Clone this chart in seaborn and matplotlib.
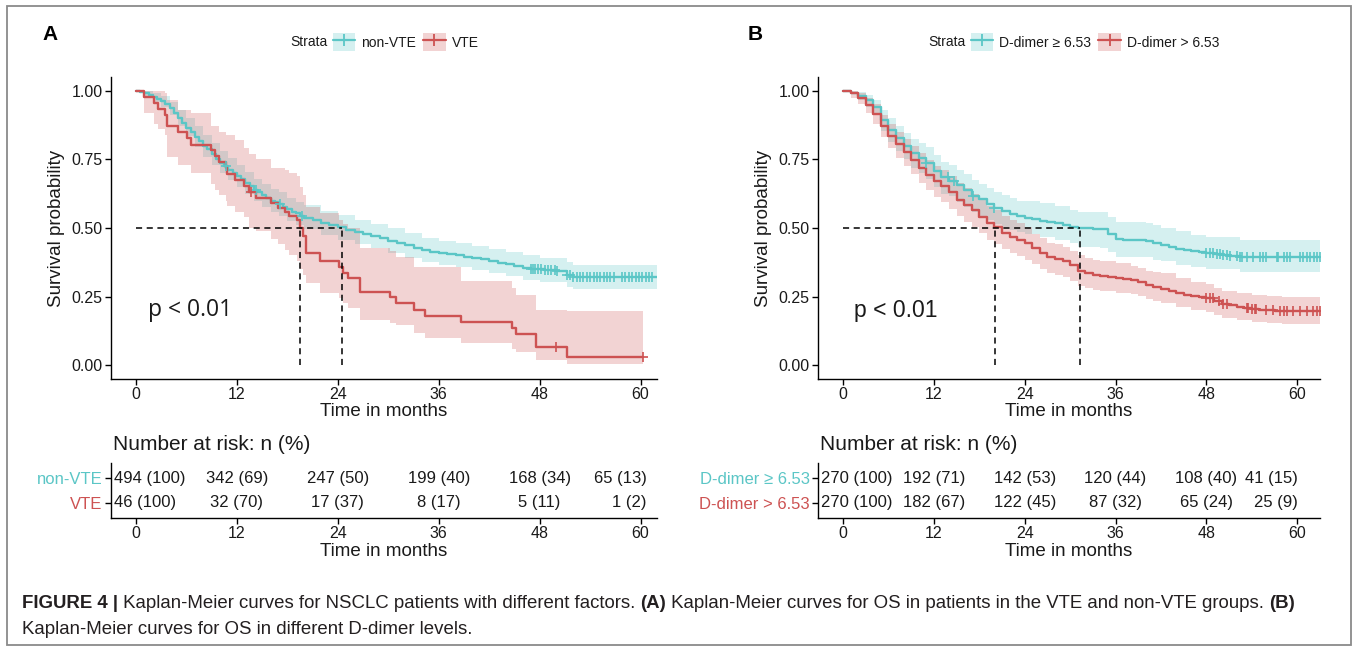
import numpy as np
import matplotlib
matplotlib.use("Agg")
import matplotlib.pyplot as plt
import seaborn as sns
from matplotlib.patches import Rectangle, Patch
from matplotlib.lines import Line2D

sns.set_theme(style="ticks")
plt.rcParams['font.family'] = ['Liberation Sans', 'DejaVu Sans']

# ---------------- DATA ----------------
# Panel A : non-VTE (teal)
a_nv_t = [0, 0.5, 1, 1.5, 2, 2.5, 3, 3.5, 4, 4.5, 5, 5.5, 6, 6.5, 7, 7.5, 8, 8.5, 9, 9.5,
          10, 10.5, 11, 11.5, 12, 12.5, 13, 13.5, 14, 14.5, 15, 15.5, 16, 16.5, 17, 17.5,
          18, 18.5, 19, 19.5, 20, 21, 22, 23, 24, 25, 26, 27, 28, 29, 30, 31, 32, 33, 34,
          35, 36, 37, 38, 39, 40, 41, 42, 43, 44, 45, 46, 47, 48.5, 50, 51.3, 52]
a_nv_s = [1.0, 0.995, 0.99, 0.983, 0.976, 0.970, 0.962, 0.950, 0.936, 0.920, 0.900, 0.883,
          0.866, 0.850, 0.832, 0.816, 0.800, 0.786, 0.769, 0.752, 0.738, 0.725, 0.713, 0.700,
          0.690, 0.678, 0.665, 0.652, 0.640, 0.631, 0.620, 0.610, 0.600, 0.594, 0.588, 0.578,
          0.568, 0.560, 0.553, 0.545, 0.538, 0.528, 0.518, 0.510, 0.503, 0.494, 0.484, 0.478,
          0.471, 0.462, 0.454, 0.445, 0.437, 0.428, 0.420, 0.413, 0.408, 0.405, 0.402, 0.396,
          0.391, 0.386, 0.380, 0.374, 0.368, 0.362, 0.356, 0.350, 0.347, 0.345, 0.330, 0.322]
a_nv_end = 61.95
a_nv_band_t = [0, 1, 2, 3, 4, 5, 6, 7, 8, 9, 10, 11, 12, 13, 14, 15, 16, 17, 18, 19, 20, 22,
               24, 26, 28, 30, 32, 34, 36, 38, 40, 42, 44, 46, 48, 51.3, 52]
a_nv_lo = [1.0, 0.98, 0.96, 0.94, 0.91, 0.87, 0.835, 0.795, 0.76, 0.728, 0.70, 0.675, 0.65,
           0.625, 0.60, 0.578, 0.557, 0.545, 0.525, 0.51, 0.495, 0.475, 0.458, 0.44, 0.427,
           0.41, 0.392, 0.375, 0.365, 0.358, 0.347, 0.336, 0.325, 0.312, 0.302, 0.285, 0.278]
a_nv_hi = [1.0, 1.0, 0.99, 0.98, 0.96, 0.93, 0.90, 0.87, 0.84, 0.81, 0.78, 0.755, 0.73,
           0.705, 0.68, 0.662, 0.642, 0.63, 0.61, 0.595, 0.582, 0.562, 0.548, 0.53, 0.515,
           0.50, 0.482, 0.465, 0.452, 0.447, 0.436, 0.425, 0.412, 0.40, 0.392, 0.376, 0.366]
a_nv_cens = [10.7, 14.3, 17.1, 19.7, 47.0, 47.2, 47.4, 47.8, 48.2, 48.6, 49.0, 49.4, 49.8,
             50.1, 51.3, 51.6, 52.0, 52.4, 52.8, 53.2, 53.6, 54.0, 54.4, 54.8, 55.2, 55.6,
             56.0, 56.4, 56.8, 57.8, 58.2, 58.6, 59.0, 59.4, 59.8, 60.2, 60.6, 61.0, 61.4]

# Panel A : VTE (red)
a_v_t = [0, 0.98, 2.14, 2.56, 3.5, 3.72, 5.0, 6.1, 6.54, 8.97, 9.4, 9.83, 10.68, 10.77,
         11.75, 12.8, 13.46, 14.3, 16.1, 16.9, 17.7, 18.2, 19.2, 19.5, 19.8, 20.2, 21.9,
         24.1, 24.6, 25.2, 26.6, 30.2, 30.9, 33.1, 34.4, 38.6, 44.7, 45.2, 47.6, 51.3]
a_v_s = [1.0, 0.978, 0.957, 0.935, 0.913, 0.870, 0.848, 0.826, 0.803, 0.783, 0.761, 0.739,
         0.717, 0.696, 0.674, 0.652, 0.630, 0.608, 0.590, 0.572, 0.560, 0.542, 0.530, 0.500,
         0.470, 0.409, 0.381, 0.359, 0.336, 0.318, 0.268, 0.250, 0.226, 0.200, 0.180, 0.156,
         0.135, 0.113, 0.067, 0.030]
a_v_lo = [1.0, 0.92, 0.88, 0.86, 0.84, 0.76, 0.73, 0.73, 0.70, 0.66, 0.64, 0.62, 0.60, 0.58,
          0.56, 0.54, 0.50, 0.49, 0.46, 0.44, 0.42, 0.40, 0.38, 0.35, 0.33, 0.30, 0.263, 0.245,
          0.226, 0.21, 0.164, 0.155, 0.148, 0.117, 0.098, 0.080, 0.060, 0.047, 0.018, 0.004]
a_v_hi = [1.0, 1.0, 1.0, 1.0, 0.99, 0.965, 0.93, 0.93, 0.92, 0.87, 0.87, 0.85, 0.84, 0.84,
          0.82, 0.79, 0.77, 0.75, 0.72, 0.72, 0.71, 0.70, 0.69, 0.65, 0.62, 0.576, 0.555, 0.53,
          0.515, 0.50, 0.427, 0.415, 0.395, 0.359, 0.359, 0.306, 0.280, 0.255, 0.200, 0.196]
a_v_end = 60.3
a_v_cens = [13.7, 50.0, 60.3]

a_medians = [19.5, 24.5]

# Panel B : D-dimer >= 6.53 (teal)
b_lo_t = [0, 1, 2, 3, 4, 5, 6, 7, 8, 9, 10, 11, 12, 13, 14, 15, 16, 17, 18, 19, 20, 21, 22,
          23, 24, 25, 26, 27, 28, 29, 30, 31, 32, 33, 34, 35, 36, 37, 38, 39, 40, 41, 42, 43,
          44, 45, 46, 47, 48, 49, 50, 51, 52.4]
b_lo_s = [1.0, 0.993, 0.982, 0.966, 0.940, 0.893, 0.858, 0.828, 0.798, 0.773, 0.755, 0.736,
          0.708, 0.685, 0.672, 0.655, 0.638, 0.618, 0.604, 0.588, 0.572, 0.561, 0.550, 0.542,
          0.536, 0.531, 0.527, 0.523, 0.517, 0.511, 0.505, 0.500, 0.499, 0.498, 0.497, 0.478,
          0.460, 0.458, 0.456, 0.455, 0.453, 0.445, 0.437, 0.430, 0.424, 0.419, 0.415, 0.411,
          0.408, 0.405, 0.402, 0.399, 0.396]
b_lo_end = 63.0
b_lo_band_t = [0, 2, 3, 4, 5, 6, 7, 8, 9, 10, 11, 12, 13, 14, 15, 16, 17, 18, 19, 20, 21, 22,
               23, 24, 26, 28, 30, 31, 34, 35, 36, 40, 41, 42, 44, 46, 48, 52.4]
b_lo_lo = [1.0, 0.965, 0.94, 0.91, 0.855, 0.815, 0.78, 0.75, 0.72, 0.70, 0.68, 0.65, 0.625,
           0.615, 0.595, 0.578, 0.56, 0.545, 0.53, 0.515, 0.505, 0.492, 0.485, 0.478, 0.468,
           0.458, 0.445, 0.43, 0.428, 0.412, 0.396, 0.393, 0.385, 0.378, 0.365, 0.358, 0.352,
           0.340]
b_lo_hi = [1.0, 0.995, 0.985, 0.965, 0.93, 0.90, 0.87, 0.845, 0.825, 0.81, 0.795, 0.765,
           0.74, 0.73, 0.71, 0.695, 0.675, 0.66, 0.645, 0.63, 0.62, 0.61, 0.60, 0.597, 0.59,
           0.58, 0.565, 0.56, 0.558, 0.54, 0.522, 0.52, 0.51, 0.50, 0.49, 0.475, 0.468, 0.456]
b_lo_cens = [11.0, 13.9, 14.6, 17.2, 20.0, 48.0, 48.5, 48.9, 49.4, 49.8, 50.2, 50.7, 51.1,
             52.1, 52.4, 52.7, 53.3, 54.2, 55.1, 55.5, 55.9, 57.3, 57.5, 58.2, 58.6, 59.1,
             60.4, 60.8, 61.3, 61.7, 62.2, 62.6, 63.0]

# Panel B : D-dimer > 6.53 (red)
b_hi_t = [0, 1, 2, 3, 4, 5, 6, 7, 8, 9, 10, 11, 12, 13, 14, 15, 16, 17, 18, 19, 20, 21, 22,
          23, 24, 25, 26, 27, 28, 29, 30, 31, 32, 33, 34, 35, 36, 37, 38, 39, 40, 41, 42, 43,
          44, 45, 46, 47, 48, 49, 50, 51, 52, 53, 54, 55, 56, 57, 58]
b_hi_s = [1.0, 0.990, 0.973, 0.948, 0.915, 0.870, 0.835, 0.805, 0.775, 0.748, 0.718, 0.693,
          0.670, 0.652, 0.630, 0.603, 0.583, 0.564, 0.540, 0.518, 0.503, 0.482, 0.468, 0.458,
          0.445, 0.428, 0.410, 0.394, 0.388, 0.380, 0.366, 0.345, 0.335, 0.329, 0.325, 0.321,
          0.318, 0.315, 0.311, 0.305, 0.294, 0.285, 0.278, 0.270, 0.262, 0.256, 0.252, 0.248,
          0.245, 0.235, 0.223, 0.218, 0.213, 0.208, 0.205, 0.203, 0.200, 0.198, 0.197]
b_hi_end = 63.0
b_hi_band_t = [0, 1, 2, 3, 4, 5, 6, 7, 8, 9, 10, 11, 12, 13, 14, 15, 16, 17, 18, 19, 20, 21,
               22, 23, 24, 25, 26, 27, 28, 29, 30, 31, 32, 33, 34, 36, 38, 39, 40, 41, 42, 44,
               46, 48, 49, 50, 52, 54, 56, 58]
b_hi_lo = [1.0, 0.975, 0.95, 0.92, 0.88, 0.83, 0.79, 0.755, 0.725, 0.695, 0.663, 0.637,
           0.613, 0.594, 0.571, 0.544, 0.523, 0.504, 0.48, 0.457, 0.443, 0.422, 0.408, 0.398,
           0.385, 0.368, 0.35, 0.335, 0.328, 0.32, 0.307, 0.29, 0.28, 0.274, 0.27, 0.265,
           0.258, 0.252, 0.242, 0.233, 0.226, 0.212, 0.2, 0.193, 0.183, 0.174, 0.164, 0.158,
           0.154, 0.152]
b_hi_hi = [1.0, 1.0, 0.99, 0.975, 0.95, 0.91, 0.88, 0.85, 0.825, 0.80, 0.772, 0.748, 0.726,
           0.71, 0.69, 0.663, 0.645, 0.625, 0.603, 0.58, 0.565, 0.545, 0.53, 0.52, 0.505,
           0.478, 0.462, 0.447, 0.44, 0.432, 0.418, 0.40, 0.39, 0.385, 0.38, 0.372, 0.362,
           0.356, 0.345, 0.338, 0.335, 0.318, 0.305, 0.295, 0.283, 0.272, 0.263, 0.256, 0.252,
           0.25]
b_hi_cens = [48.0, 48.5, 48.9, 49.6, 50.2, 50.7, 53.3, 53.5, 54.0, 54.4, 54.6, 55.9, 56.8,
             57.7, 58.2, 58.6, 59.5, 60.4, 61.3, 62.1, 62.6, 63.0]

b_medians = [20.1, 31.3]

# Risk tables
risk_times = [0, 12, 24, 36, 48, 60]
a_nv_n = [494, 342, 247, 199, 168, 65]
a_nv_p = [100, 69, 50, 40, 34, 13]
a_v_n = [46, 32, 17, 8, 5, 1]
a_v_p = [100, 70, 37, 17, 11, 2]
b_lo_n = [270, 192, 142, 120, 108, 41]
b_lo_p = [100, 71, 53, 44, 40, 15]
b_hi_n = [270, 182, 122, 87, 65, 25]
b_hi_p = [100, 67, 45, 32, 24, 9]

a_labels = ["non-VTE", "VTE"]
b_labels = ["D-dimer \u2265 6.53", "D-dimer > 6.53"]
x_ticks = [0, 12, 24, 36, 48, 60]
y_ticks = [0.0, 0.25, 0.5, 0.75, 1.0]
y_ticklabels = ["0.00", "0.25", "0.50", "0.75", "1.00"]

# ---------------- STYLE ----------------
W, H = 1357, 650
TEAL = '#5BC6C6'
RED = '#CD5252'
BAND_ALPHA = 0.25
TXT = '#1a1a1a'

fig = plt.figure(figsize=(W / 100, H / 100), dpi=100)
fig.patch.set_facecolor('white')


def add_ax(l, t, r, b):
    return fig.add_axes([l / W, 1 - b / H, (r - l) / W, (b - t) / H])


def style_ax(ax, ticksize=11.5):
    sns.despine(ax=ax)
    for sp in ['left', 'bottom']:
        ax.spines[sp].set_color('black')
        ax.spines[sp].set_linewidth(1.0)
    ax.tick_params(axis='both', direction='out', length=4, width=1.0, color='black',
                   labelsize=ticksize, labelcolor=TXT, pad=2)
    ax.set_facecolor('white')
    ax.grid(False)


def draw_km(ax, t, s, end, bt, lo, hi, cens, color):
    bt2 = list(bt) + [end]
    lo2 = list(lo) + [lo[-1]]
    hi2 = list(hi) + [hi[-1]]
    ax.fill_between(bt2, lo2, hi2, step='post', color=color, alpha=BAND_ALPHA, lw=0)
    tt = list(t) + [end]
    ss = list(s) + [s[-1]]
    sns.lineplot(x=tt, y=ss, ax=ax, drawstyle='steps-post', estimator=None, sort=False,
                 color=color, lw=1.7)
    idx = np.searchsorted(np.array(t), np.array(cens), side='right') - 1
    cs = np.array(s)[idx]
    sns.scatterplot(x=cens, y=cs, ax=ax, marker='+', s=55, color=color, linewidth=1.2,
                    zorder=5)


def main_panel(l, r, ylab_x, xlim, curves, medians, ptxt, pfam):
    ax = add_ax(l, 77, r, 379)
    for c in curves:
        draw_km(ax, *c)
    ax.plot([0, max(medians)], [0.5, 0.5], ls=(0, (4, 3)), color='black', lw=1.1)
    for m in medians:
        ax.plot([m, m], [0, 0.5], ls=(0, (4, 3)), color='black', lw=1.1)
    ax.set_xlim(*xlim)
    ax.set_ylim(-0.05, 1.05)
    ax.set_xticks(x_ticks)
    ax.set_yticks(y_ticks)
    ax.set_yticklabels(y_ticklabels)
    style_ax(ax)
    ax.set_xlabel("Time in months", fontsize=13.5, color=TXT)
    ax.set_ylabel("Survival probability", fontsize=13.5, color=TXT)
    ax.xaxis.set_label_coords(0.5, (379 - 411) / 302.0)
    ax.yaxis.set_label_coords((ylab_x - l) / (r - l), 0.5)
    ax.yaxis.label.set_va('center')
    ax.xaxis.label.set_va('center')
    ax.text(1.4, 0.20, ptxt, fontsize=16.5, color=TXT, va='center', ha='left',
            family=pfam)
    return ax


def risk_panel(l, r, xlim, rows, labels, colors, right_x):
    ax = add_ax(l, 463, r, 518)
    ax.set_xlim(*xlim)
    ax.set_ylim(0.4, 2.6)
    ypos = [2, 1]
    for (ns, ps), y in zip(rows, ypos):
        for j, (tm, n, p) in enumerate(zip(risk_times, ns, ps)):
            txt = f"{n} ({p})"
            if j == 0:
                ax.text(xlim[0] + 0.4, y, txt, ha='left', va='center', fontsize=12, color=TXT)
            elif j == len(risk_times) - 1:
                ax.text(right_x, y, txt, ha='right', va='center', fontsize=12, color=TXT)
            else:
                ax.text(tm, y, txt, ha='center', va='center', fontsize=12, color=TXT)
    ax.set_yticks(ypos)
    ax.set_yticklabels(labels)
    ax.set_xticks(x_ticks)
    style_ax(ax, ticksize=11.5)
    for tl, c in zip(ax.get_yticklabels(), colors):
        tl.set_color(c)
        tl.set_fontsize(12)
    ax.set_xlabel("Time in months", fontsize=13.5, color=TXT)
    ax.xaxis.set_label_coords(0.5, (518 - 551) / 55.0)
    ax.xaxis.label.set_va('center')
    fig.text((l + 2) / W, 1 - 445 / H, "Number at risk: n (%)", fontsize=15, color=TXT,
             ha='left', va='center')
    return ax


A_XLIM = (-2.97, 61.95)
B_XLIM = (-3.3, 63.0)

main_panel(111, 657, 57, A_XLIM,
           [(a_nv_t, a_nv_s, a_nv_end, a_nv_band_t, a_nv_lo, a_nv_hi, a_nv_cens, TEAL),
            (a_v_t, a_v_s, a_v_end, a_v_t, a_v_lo, a_v_hi, a_v_cens, RED)],
           a_medians, "p < 0.01", ['Open Sans', 'DejaVu Sans'])
main_panel(818, 1320, 764, B_XLIM,
           [(b_lo_t, b_lo_s, b_lo_end, b_lo_band_t, b_lo_lo, b_lo_hi, b_lo_cens, TEAL),
            (b_hi_t, b_hi_s, b_hi_end, b_hi_band_t, b_hi_lo, b_hi_hi, b_hi_cens, RED)],
           b_medians, "p < 0.01", ['Liberation Sans', 'DejaVu Sans'])

risk_panel(111, 657, A_XLIM, [(a_nv_n, a_nv_p), (a_v_n, a_v_p)], a_labels, [TEAL, RED], 60.7)
risk_panel(818, 1320, B_XLIM, [(b_lo_n, b_lo_p), (b_hi_n, b_hi_p)], b_labels, [TEAL, RED], 60.1)

# panel letters
fig.text(42 / W, 1 - 35 / H, "A", fontsize=15, fontweight='bold', color='black', va='center')
fig.text(748 / W, 1 - 35 / H, "B", fontsize=15, fontweight='bold', color='black', va='center')


def legend_at(x_strata, labels):
    fig.text(x_strata / W, 1 - 42 / H, "Strata", fontsize=10, color=TXT, va='center',
             ha='left')
    handles = []
    for c in [TEAL, RED]:
        handles.append((Patch(facecolor=c, alpha=BAND_ALPHA, edgecolor='none'),
                        Line2D([], [], color=c, lw=1.6, marker='+', markersize=9,
                               markeredgewidth=1.3)))
    leg = fig.legend(handles, labels, ncol=2, loc='center left',
                     bbox_to_anchor=((x_strata + 43) / W, 1 - 42 / H), frameon=False,
                     fontsize=10, handlelength=1.6, handleheight=1.6, handletextpad=0.45,
                     columnspacing=0.5, borderaxespad=0, borderpad=0)
    for t in leg.get_texts():
        t.set_color(TXT)


legend_at(290, a_labels)
legend_at(928, b_labels)

# figure frame
fig.patches.append(Rectangle((7 / W, 1 - 645 / H), (1351 - 7) / W, (645 - 6) / H,
                             transform=fig.transFigure, fill=False, ec='#8a8a8a', lw=1.3))

# caption
cap_fam = ['Liberation Sans Narrow', 'Liberation Sans', 'DejaVu Sans']
renderer = fig.canvas.get_renderer()


def rich_line(y_px, parts, size):
    x = 22.0
    for txt, bold in parts:
        t = fig.text(x / W, 1 - y_px / H, txt, fontsize=size,
                     fontweight='bold' if bold else 'normal', family=cap_fam,
                     va='center', ha='left', color='#231F20')
        bb = t.get_window_extent(renderer=renderer)
        x += bb.width


cap_size = 13.4
rich_line(603, [("FIGURE 4 |", True),
                (" Kaplan-Meier curves for NSCLC patients with different factors. ", False),
                ("(A)", True),
                (" Kaplan-Meier curves for OS in patients in the VTE and non-VTE groups. ", False),
                ("(B)", True)], cap_size)
rich_line(630, [("Kaplan-Meier curves for OS in different D-dimer levels.", False)], cap_size)

fig.savefig("out.png", dpi=100, facecolor='white')
